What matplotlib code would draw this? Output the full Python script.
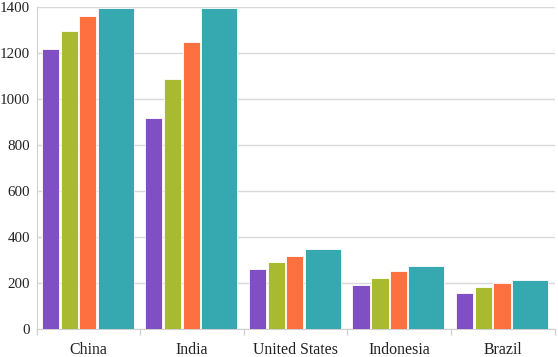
import matplotlib
matplotlib.use("Agg")
import matplotlib.pyplot as plt
import numpy as np

categories = ["China", "India", "United States", "Indonesia", "Brazil"]
series_a = [1216, 917, 259, 189, 153]
series_b = [1296, 1088, 288, 221, 179]
series_c = [1362, 1249, 316, 249, 197]
series_d = [1395, 1396, 345, 271, 210]
yticks = [0, 200, 400, 600, 800, 1000, 1200, 1400]

colors = ["#7f4fc3", "#a8bb30", "#fe7040", "#35a8b0"]

W, H = 558, 357
fig = plt.figure(figsize=(W / 100, H / 100), dpi=100)
left, right, top, bottom = 36.5, 554.5, 7, 328.5
ax = fig.add_axes([left / W, (H - bottom) / H, (right - left) / W, (bottom - top) / H])

cat_px = (right - left) / 5
offsets_px = [5, 24, 42.5, 61]
widths_px = [17.2, 17.2, 17.2, 36]
x = np.arange(len(categories))
for s, vals in enumerate([series_a, series_b, series_c, series_d]):
    ax.bar(x + offsets_px[s] / cat_px, vals, width=widths_px[s] / cat_px, align="edge",
           color=colors[s], edgecolor="white", linewidth=0.6, zorder=3)

ax.set_xlim(0, 5)
ax.set_ylim(0, 1400)
ax.set_yticks(yticks)
ax.set_yticklabels([str(v) for v in yticks])
ax.yaxis.grid(True, color="#d9d9d9", linewidth=1, zorder=0)
ax.set_xticks(np.arange(6))
ax.set_xticklabels([])
ax.set_xticks(x + 0.5, minor=True)
ax.set_xticklabels(categories, minor=True)
ax.tick_params(axis="x", which="major", length=4, color="#d0d0d0", width=1)
ax.tick_params(axis="x", which="minor", length=0, pad=10, labelsize=11.4, labelcolor="#222222")
ax.tick_params(axis="y", length=0, pad=4.5, labelsize=10.8, labelcolor="#222222")
for lab in ax.get_xticklabels(minor=True) + ax.get_yticklabels():
    lab.set_family("Liberation Serif")
for sp in ["top", "right"]:
    ax.spines[sp].set_visible(False)
ax.spines["left"].set_color("#d0d0d0")
ax.spines["bottom"].set_color("#d0d0d0")
ax.set_axisbelow(True)

fig.savefig("out.png", dpi=100)
